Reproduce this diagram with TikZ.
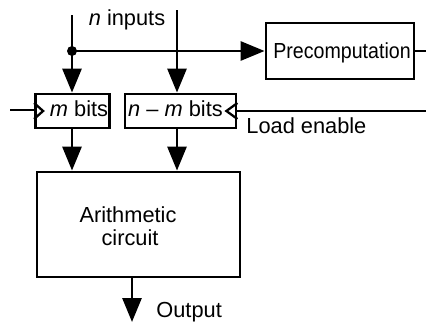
\documentclass[tikz,border=0pt]{standalone}
\usepackage{fontspec}
\usepackage{graphicx}
\setmainfont{Liberation Sans}
\usetikzlibrary{arrows.meta}
\begin{document}
\begin{tikzpicture}[x=1pt,y=-1pt,line width=2.8pt,
  box/.style={draw,line width=2.8pt,inner sep=0pt,rectangle},
  arr/.style={-{Triangle[length=24pt,width=19pt]}},
  lbl/.style={font=\fontsize{21.8}{25}\selectfont,inner sep=0pt},
  clk/.style={line width=2.3pt,line join=miter}]
\useasboundingbox (0,0) rectangle (426,324);
% boxes
\node[box,minimum width=74pt,minimum height=34pt] (mbits) at (72.5,111) {};
\node[box,minimum width=111pt,minimum height=34pt] (nmbits) at (180.5,111) {};
\node[box,minimum width=148pt,minimum height=56pt] (prec) at (340,51) {};
\node[box,minimum width=203pt,minimum height=105pt] (arith) at (138.5,224.5) {};
% coordinates
\coordinate (top1) at (72,15);
\coordinate (top2) at (177,10);
\coordinate (dot) at (72,51);
\coordinate (pe) at (426,51);
\coordinate (clkin) at (10,110);
\coordinate (ldin) at (426,111);
\coordinate (out) at (132,322);
% labels
\node[lbl,anchor=base] (lin) at (127,25) {\textit{n} inputs};
\node[lbl,anchor=base] (lm) at (79,116) {\textit{m} bits};
\node[lbl,anchor=base] (lnm) at (175.5,116) {\textit{n} -- \textit{m} bits};
\node[lbl,anchor=base] (lpre) at (342,58) {\scalebox{0.9}[1]{Precomputation}};
\node[lbl,anchor=base] (la1) at (128,222) {Arithmetic};
\node[lbl,anchor=base] (la2) at (130,245) {circuit};
\node[lbl,anchor=base west] (lload) at (245,133) {Load enable};
\node[lbl,anchor=base west] (lout) at (155,317) {Output};
% connectors
\draw[arr] (top1) -- (top1 |- mbits.north);
\draw[arr] (top2) -- (top2 |- nmbits.north);
\fill (dot) circle (5pt);
\draw[arr] (dot) -- (dot -| prec.west);
\draw (prec.east |- pe) -- (pe);
\draw[arr] (top1 |- mbits.south) -- (top1 |- arith.north);
\draw[arr] (top2 |- nmbits.south) -- (top2 |- arith.north);
\draw (clkin) -- (clkin -| mbits.west);
\draw[clk] ([yshift=-8pt]mbits.west) -- ([xshift=9pt]mbits.west) -- ([yshift=8pt]mbits.west);
\draw (ldin) -- (ldin -| nmbits.east);
\draw[clk] ([yshift=-8pt]nmbits.east) -- ([xshift=-11pt]nmbits.east) -- ([yshift=8pt]nmbits.east);
\draw[arr] (out |- arith.south) -- (out);
\end{tikzpicture}
\end{document}
